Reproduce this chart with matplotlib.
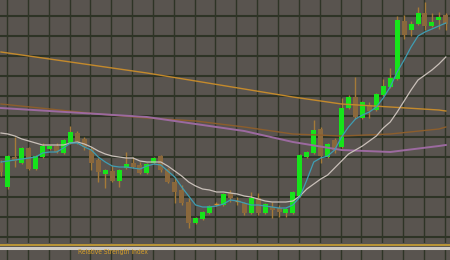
import numpy as np
import matplotlib.pyplot as plt
from matplotlib.lines import Line2D

# candle data (price units)
opens = [97, 73, 103, 97, 112, 91, 103, 111, 114, 107, 117, 127, 121, 111, 100, 86,
         89, 79, 92, 97, 95, 87, 97, 104, 91, 78, 70, 58, 37, 41, 47, 56,
         55, 67, 59, 57, 47, 62, 47, 53, 52, 47, 47, 64, 103, 107, 131, 103,
         120, 113, 152, 163, 142, 155, 150, 165, 173, 181, 239, 230, 236, 247, 234, 240, 245]
closes = [88, 104, 99, 112, 91, 104, 114, 114, 108, 120, 128, 118, 113, 97, 88, 90,
          79, 90, 96, 93, 87, 96, 102, 90, 78, 68, 57, 37, 42, 48, 54, 56,
          66, 62, 59, 47, 62, 47, 56, 50, 48, 51, 68, 105, 108, 130, 104, 116,
          110, 152, 163, 143, 158, 149, 166, 174, 182, 240, 225, 236, 247, 234, 238, 243, 236]
highs = [100, 105, 123, 113, 113, 105, 117, 115, 117, 121, 134, 129, 123, 113, 102, 91,
         95, 91, 108, 103, 98, 97, 103, 105, 92, 83, 75, 62, 43, 49, 55, 58,
         67, 70, 63, 58, 68, 67, 57, 58, 55, 52, 69, 106, 109, 140, 133, 117,
         122, 162, 165, 183, 159, 158, 167, 181, 192, 244, 245, 239, 253, 258, 247, 248, 247]
lows = [84, 71, 93, 96, 90, 90, 102, 110, 107, 106, 116, 116, 110, 90, 78, 72,
        78, 73, 91, 92, 86, 86, 96, 88, 77, 57, 55, 32, 36, 40, 46, 54,
        54, 58, 55, 45, 46, 45, 46, 42, 43, 43, 46, 63, 102, 106, 97, 102,
        107, 112, 151, 141, 141, 142, 149, 164, 172, 180, 221, 224, 235, 230, 233, 231, 230]

# fast and medium moving averages, one value per candle
ma_fast = [98, 99, 100, 101, 102, 103, 107, 108, 108, 112, 117, 117, 113, 110, 103, 98,
           94, 93, 93, 92, 91, 94, 96, 95, 89, 83, 73, 64, 55, 53, 53, 54,
           56, 60, 59, 57, 55, 55, 54, 53, 52, 52, 55, 63, 80, 98, 102, 104,
           110, 123, 133, 141, 145, 148, 153, 162, 173, 188, 200, 213, 224, 228, 231, 234, 237]
ma_mid = [127, 126, 124, 121, 119, 117, 115, 115, 115, 115, 117, 118, 116, 113, 109, 106,
          104, 103, 102, 102, 99, 98, 98, 98, 94, 89, 84, 78, 74, 71, 70, 68,
          68, 67, 66, 64, 63, 61, 59, 58, 58, 58, 59, 64, 71, 76, 81, 85,
          92, 99, 106, 110, 114, 119, 124, 132, 138, 148, 159, 170, 180, 185, 190, 196, 203]

# slow moving averages, read every 7 candles
slow_idx = [0, 7, 14, 21, 28, 35, 42, 49, 56, 63, 64]
ma_orange = [208, 201, 194, 187, 179, 171, 163, 156, 153, 150, 149]
ma_brown = [156, 151, 146, 142, 139, 133, 126, 124, 126, 131, 133]
ma_purple = [152, 149, 146, 143, 136, 129, 118, 110, 108, 114, 115]

bg = "#59544f"
grid_col = "#2e3426"
up_col = "#16e41a"
down_col = "#8a683c"
wick_col = "#a57a38"

fig = plt.figure(figsize=(4.5, 2.6), dpi=100)
fig.patch.set_facecolor(bg)

ax = fig.add_axes([0, 17 / 260, 1, 243 / 260])
ax.set_facecolor(bg)
ax.set_xlim(-0.14, 64.6)
ax.set_ylim(17, 260)

x = np.arange(len(opens))
o = np.array(opens)
c = np.array(closes)

# grid
for gx in np.arange(0.86, 65, 3):
    ax.axvline(gx, color=grid_col, lw=1.0, zorder=0)
for gy in 244.3 - 20.15 * np.arange(12):
    ax.axhline(gy, color=grid_col, lw=1.5, zorder=0)

# candles
ax.vlines(x, lows, highs, color=wick_col, lw=1.0, zorder=2)
up = c > o
down = c < o
doji = c == o
ax.bar(x[up], (c - o)[up], bottom=o[up], width=0.72, color=up_col, zorder=3)
ax.bar(x[down], (o - c)[down], bottom=c[down], width=0.72, color=down_col, zorder=3)
ax.hlines(o[doji], x[doji] - 0.36, x[doji] + 0.36, color="#d09030", lw=1.0, zorder=3)

# moving averages
ax.plot(slow_idx, ma_orange, color="#c48a2c", lw=1.0, zorder=4)
ax.plot(slow_idx, ma_brown, color="#8c5e2c", lw=1.0, zorder=4)
ax.plot(slow_idx, ma_purple, color="#9c6aa0", lw=1.4, zorder=4)
ax.plot(x, ma_mid, color="#c9c0b9", lw=0.9, zorder=5)
ax.plot(x, ma_fast, color="#3f9db2", lw=0.9, zorder=5)

ax.set_xticks([])
ax.set_yticks([])
for s in ax.spines.values():
    s.set_visible(False)

# separator between the price window and the indicator window
fig.add_artist(Line2D([0, 1], [0.0585, 0.0585], transform=fig.transFigure,
                      color="#d6a830", lw=1.1))
fig.add_artist(Line2D([0, 1], [0.048, 0.048], transform=fig.transFigure,
                      color="#cfcac3", lw=2.2))

# indicator window (empty)
ax2 = fig.add_axes([0, 0, 1, 10 / 260])
ax2.set_facecolor(bg)
ax2.set_xlim(-0.14, 64.6)
ax2.set_ylim(0, 1)
for gx in np.arange(0.86, 65, 3):
    ax2.axvline(gx, color=grid_col, lw=1.0)
ax2.set_xticks([])
ax2.set_yticks([])
for s in ax2.spines.values():
    s.set_visible(False)

fig.text(78 / 450, 0.029, "Relative Strength Index", color="#d8a02a", fontsize=4.8,
         family=["Liberation Sans Narrow", "DejaVu Sans"], fontstretch="condensed",
         va="center", ha="left")

fig.savefig("out.png", dpi=100, facecolor=bg)
